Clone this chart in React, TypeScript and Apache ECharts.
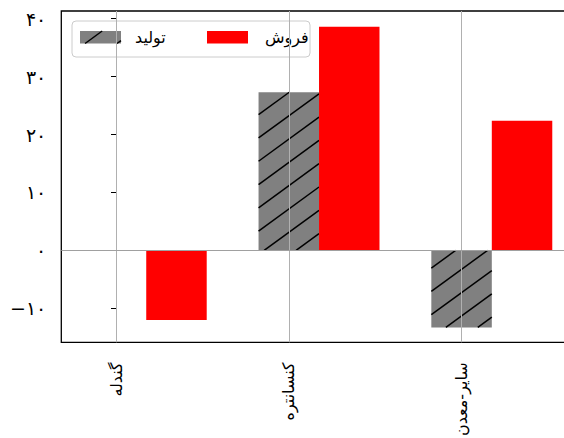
import React, { useEffect, useRef } from "react";
import * as echarts from "echarts";

const categories = ["گندله", "کنسانتره", "سایر-معدن"];
const seriesNames = ["تولید", "فروش"];
const productionValues = [0, 27.3, -13.3];
const salesValues = [-12.0, 38.6, 22.4];
const yTicks = [-10, 0, 10, 20, 30, 40];
const yTickLabels = ["−۱۰", "۰", "۱۰", "۲۰", "۳۰", "۴۰"];

const BAR_W = 0.35;
const FONT = "'DejaVu Sans', sans-serif";
const HATCH_SLOPE = 0.73;
const HATCH_PY = 23.3;
const HATCH_PHASE = 350 % 23.3;
const LEGEND_HATCH_PHASE = 105.6 % 23.3;

function hatchLines(x0: number, y0: number, x1: number, y1: number, phase: number = HATCH_PHASE) {
  const out: any[] = [];
  const s = HATCH_SLOPE;
  const cMin = y0 + s * x0;
  const cMax = y1 + s * x1;
  let k = Math.ceil((cMin - phase) / HATCH_PY);
  for (; phase + k * HATCH_PY <= cMax; k++) {
    const c = phase + k * HATCH_PY;
    const xa = Math.max(x0, (c - y1) / s);
    const xb = Math.min(x1, (c - y0) / s);
    if (xb > xa) {
      out.push({
        type: "line",
        shape: { x1: xa, y1: c - s * xa, x2: xb, y2: c - s * xb },
        style: { stroke: "#000", lineWidth: 1.5 },
      });
    }
  }
  return out;
}

function makeRender(color: string, hatched: boolean) {
  return (params: any, api: any) => {
    const x = api.value(0);
    const v = api.value(1);
    const p0 = api.coord([x - BAR_W / 2, 0]);
    const p1 = api.coord([x + BAR_W / 2, v]);
    const rx = p0[0];
    const rw = p1[0] - p0[0];
    const ry = Math.min(p0[1], p1[1]);
    const rh = Math.abs(p1[1] - p0[1]);
    const children: any[] = [
      { type: "rect", shape: { x: rx, y: ry, width: rw, height: rh }, style: { fill: color } },
    ];
    if (hatched && rh > 0.5) {
      children.push(...hatchLines(rx, ry, rx + rw, ry + rh));
    }
    return { type: "group", children };
  };
}

export default function App() {
  const ref = useRef<HTMLDivElement>(null);
  useEffect(() => {
    if (!ref.current) return;
    const chart = echarts.init(ref.current, null, { renderer: "svg" });
    const legendHatch = { x: 80, y: 31, w: 41, h: 12.5 };
    chart.setOption({
      animation: false,
      textStyle: { fontFamily: FONT },
      grid: {
        left: 61.3,
        top: 11,
        width: 514.3,
        height: 331.3,
        outerBoundsMode: "none",
        containLabel: false,
        show: true,
        borderColor: "#000",
        borderWidth: 1.3,
        backgroundColor: "transparent",
      },
      xAxis: {
        type: "value",
        min: -0.3166,
        max: 2.66,
        axisLine: { show: false },
        splitLine: { show: false },
        axisTick: {
          show: true,
          customValues: [0, 1, 2],
          length: 5,
          lineStyle: { color: "#000", width: 1 },
        },
        axisLabel: {
          customValues: [0, 1, 2],
          formatter: (v: number) => categories[Math.round(v)] ?? "",
          rotate: 90,
          fontSize: 16,
          color: "#000",
          margin: 20,
          fontFamily: FONT,
        },
      },
      yAxis: {
        type: "value",
        min: -15.87,
        max: 41.33,
        axisLine: { show: false },
        splitLine: { show: false },
        axisTick: {
          show: true,
          customValues: yTicks,
          length: 5,
          lineStyle: { color: "#000", width: 1 },
        },
        axisLabel: {
          customValues: yTicks,
          formatter: (v: number) => {
            const i = yTicks.indexOf(Math.round(v));
            return i >= 0 ? yTickLabels[i] : "";
          },
          fontSize: 19,
          color: "#000",
          margin: 15,
          fontFamily: FONT,
        },
      },
      series: [
        {
          name: seriesNames[0],
          type: "custom",
          z: 2,
          renderItem: makeRender("#808080", true),
          encode: { x: 0, y: 1 },
          data: productionValues.map((v, i) => [i, v]),
        },
        {
          name: seriesNames[1],
          type: "custom",
          z: 2,
          renderItem: makeRender("#ff0000", false),
          encode: { x: 0, y: 1 },
          data: salesValues.map((v, i) => [i + BAR_W, v]),
        },
        {
          name: "grid",
          type: "line",
          z: 5,
          data: [],
          markLine: {
            silent: true,
            symbol: ["none", "none"],
            label: { show: false },
            lineStyle: { color: "#b0b0b0", width: 1, type: "solid" },
            data: [
              { xAxis: 0 },
              { xAxis: 1 },
              { xAxis: 2 },
              { yAxis: 0, lineStyle: { color: "#a0a0a0", width: 1, type: "solid" } },
            ],
          },
        },
      ],
      graphic: [
        {
          type: "group",
          z: 100,
          children: [
            {
              type: "rect",
              shape: { x: 72, y: 21, width: 238, height: 36, r: 4 },
              style: { fill: "rgba(255,255,255,0.8)", stroke: "#cccccc", lineWidth: 1 },
            },
            {
              type: "rect",
              shape: { x: legendHatch.x, y: legendHatch.y, width: legendHatch.w, height: legendHatch.h },
              style: { fill: "#808080" },
            },
            ...hatchLines(
              legendHatch.x,
              legendHatch.y,
              legendHatch.x + legendHatch.w,
              legendHatch.y + legendHatch.h,
              LEGEND_HATCH_PHASE
            ),
            {
              type: "text",
              x: 135,
              y: 37,
              style: {
                text: seriesNames[0],
                fontSize: 16,
                fontFamily: FONT,
                fill: "#000",
                align: "left",
                verticalAlign: "middle",
              },
            },
            {
              type: "rect",
              shape: { x: 207, y: 31, width: 41, height: 12.5 },
              style: { fill: "#ff0000" },
            },
            {
              type: "text",
              x: 265,
              y: 37,
              style: {
                text: seriesNames[1],
                fontSize: 16,
                fontFamily: FONT,
                fill: "#000",
                align: "left",
                verticalAlign: "middle",
              },
            },
          ],
        },
      ],
    });
    return () => chart.dispose();
  }, []);
  return (
    <div
      ref={ref}
      style={{ position: "fixed", left: 0, top: 0, width: 564, height: 438, background: "#fff" }}
    />
  );
}
